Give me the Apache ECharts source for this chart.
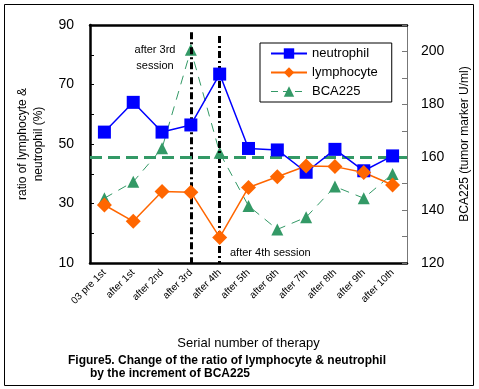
<!DOCTYPE html>
<html>
<head>
<meta charset="utf-8">
<script src="https://cdn.jsdelivr.net/npm/echarts@6/dist/echarts.min.js"></script>
<style>html,body{margin:0;padding:0;background:#fff}#c{width:479px;height:389px}</style>
</head>
<body>
<div id="c"></div>
<script>
var categories = ["03 pre 1st","after 1st","after 2nd","after 3rd","after 4th","after 5th","after 6th","after 7th","after 8th","after 9th","after 10th"];
var neutrophil = [54, 64, 54, 56.4, 73.5, 48.5, 48, 40.5, 48.2, 41, 46];
var lymphocyte = [29.5, 24, 34, 33.8, 18.6, 35.4, 39, 42.6, 42.4, 40.4, 36.2];
var bca225 = [144.5, 150.7, 163.4, 200.6, 161.7, 141.6, 132.7, 137.3, 148.9, 144.5, 153.7];
var bcaReference = 160;
var sessionMarks = [["after 3rd", 87.6], ["after 4th", 86.3]];
var leftTicks = [10, 30, 50, 70, 90];
var rightTicks = [120, 140, 160, 180, 200];

var font = "Liberation Sans";
var chart = echarts.init(document.getElementById('c'), null, {renderer: 'canvas'});
var option = {
  backgroundColor: '#fff',
  animation: false,
  textStyle: {fontFamily: font},
  grid: {left: 90, right: 72, top: 25, bottom: 126},
  legend: {
    orient: 'vertical', left: 260, top: 43,
    backgroundColor: '#fff', borderColor: '#000', borderWidth: 1,
    padding: [4, 14, 4, 10], itemGap: 6, itemWidth: 36, itemHeight: 13,
    textStyle: {fontFamily: font, fontSize: 13, color: '#000'},
    data: [
      {name: 'neutrophil', lineStyle: {width: 2}},
      {name: 'lymphocyte', lineStyle: {width: 2}},
      {name: 'BCA225', lineStyle: {width: 1, type: [7, 5]}}
    ]
  },
  xAxis: [{
    type: 'category', data: categories, boundaryGap: true,
    name: 'Serial number of therapy', nameLocation: 'middle', nameGap: 74,
    nameTextStyle: {fontFamily: font, fontSize: 13, color: '#000'},
    axisLine: {lineStyle: {color: '#000', width: 2.5}},
    axisTick: {inside: true, length: 3, lineStyle: {color: '#000'}},
    axisLabel: {rotate: 45, fontSize: 10, color: '#000', margin: 8, interval: 0}
  }, {
    type: 'category', data: categories, position: 'top',
    axisLine: {lineStyle: {color: '#000', width: 2.5}},
    axisTick: {show: false}, axisLabel: {show: false}
  }],
  yAxis: [{
    type: 'value', min: 10, max: 90, interval: 10, position: 'left',
    name: 'ratio of lymphocyte &\nneutrophil (%)', nameLocation: 'middle', nameGap: 43,
    nameTextStyle: {fontFamily: font, fontSize: 12, color: '#000', lineHeight: 16},
    axisLine: {show: true, lineStyle: {color: '#000', width: 2.5}},
    axisTick: {show: true, inside: true, length: 4, lineStyle: {color: '#000'}},
    splitLine: {show: false},
    axisLabel: {fontSize: 14, color: '#000', margin: 16,
      formatter: function (v) { return leftTicks.indexOf(v) >= 0 ? String(v) : ''; }}
  }, {
    type: 'value', min: 120, max: 210, interval: 10, position: 'right',
    name: 'BCA225 (tumor marker U/ml)', nameLocation: 'middle', nameGap: 52, nameRotate: 90,
    nameTextStyle: {fontFamily: font, fontSize: 12, color: '#000'},
    axisLine: {show: true, lineStyle: {color: '#777', width: 1}},
    axisTick: {show: true, inside: true, length: 5, lineStyle: {color: '#777'}},
    splitLine: {show: false},
    axisLabel: {fontSize: 14, color: '#000', margin: 14,
      formatter: function (v) { return rightTicks.indexOf(v) >= 0 ? String(v) : ''; }}
  }],
  series: [{
    name: 'neutrophil', type: 'line', data: neutrophil, yAxisIndex: 0,
    symbol: 'rect', symbolSize: 13, z: 5,
    itemStyle: {color: '#0000FF'}, lineStyle: {color: '#0000FF', width: 1.5},
    markLine: {
      silent: true, symbol: ['none', 'none'], label: {show: false}, z: 4,
      lineStyle: {color: '#000', width: 3, type: [7, 3, 2, 3]},
      data: sessionMarks.map(function (m) {
        return [{coord: [m[0], m[1]]}, {coord: [m[0], 10]}];
      })
    }
  }, {
    name: 'lymphocyte', type: 'line', data: lymphocyte, yAxisIndex: 0,
    symbol: 'diamond', symbolSize: 15, z: 5,
    itemStyle: {color: '#FF6600'}, lineStyle: {color: '#FF6600', width: 1.5}
  }, {
    name: 'BCA225', type: 'line', data: bca225, yAxisIndex: 1,
    symbol: 'triangle', symbolSize: 12, z: 3,
    itemStyle: {color: '#339966'}, lineStyle: {color: '#339966', width: 1, type: [9, 7]},
    markLine: {
      silent: true, symbol: ['none', 'none'], label: {show: false},
      lineStyle: {color: '#339966', width: 3, type: [12, 6]},
      data: [{yAxis: bcaReference}]
    }
  }],
  graphic: [
    {type: 'rect', shape: {x: 4.5, y: 4.5, width: 469, height: 381}, style: {fill: 'none', stroke: '#000', lineWidth: 1}, silent: true, z: -1},
    {type: 'text', x: 155, y: 50, style: {text: 'after 3rd', fontFamily: font, fontSize: 11, fill: '#000', align: 'center', verticalAlign: 'middle'}},
    {type: 'text', x: 155, y: 66, style: {text: 'session', fontFamily: font, fontSize: 11, fill: '#000', align: 'center', verticalAlign: 'middle'}},
    {type: 'text', x: 230, y: 253, style: {text: 'after 4th session', fontFamily: font, fontSize: 11, fill: '#000', align: 'left', verticalAlign: 'middle'}},
    {type: 'text', x: 68, y: 361, style: {text: 'Figure5. Change of the ratio of lymphocyte & neutrophil', fontFamily: font, fontSize: 12, fontWeight: 'bold', fill: '#000', align: 'left', verticalAlign: 'middle'}},
    {type: 'text', x: 90, y: 374, style: {text: 'by the increment of BCA225', fontFamily: font, fontSize: 12, fontWeight: 'bold', fill: '#000', align: 'left', verticalAlign: 'middle'}}
  ]
};
chart.setOption(option);
</script>
</body>
</html>
